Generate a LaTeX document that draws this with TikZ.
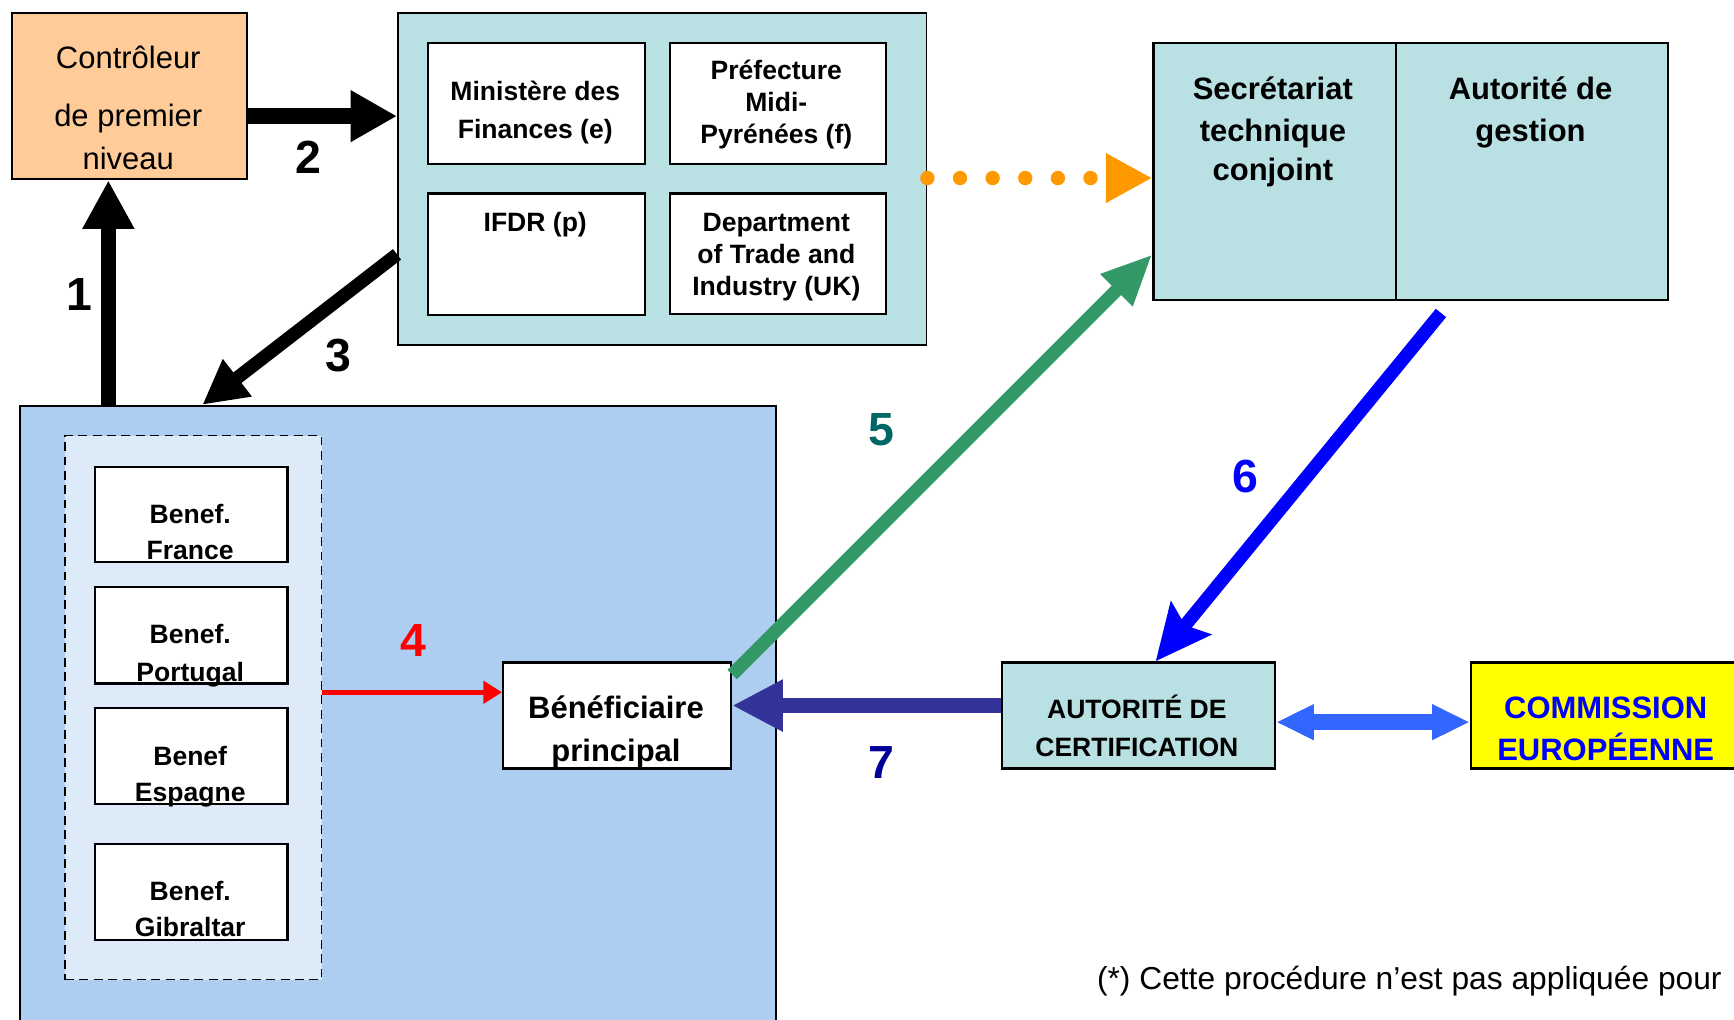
\documentclass[tikz,border=0pt]{standalone}
\usepackage{fontspec}
\setmainfont{Liberation Sans}
\usetikzlibrary{arrows.meta}
\definecolor{orbox}{HTML}{FFCC99}
\definecolor{tealbox}{HTML}{B9E0E3}
\definecolor{bluebox}{HTML}{ADCEF0}
\definecolor{dashbox}{HTML}{DDEAF8}
\definecolor{grn}{HTML}{339966}
\definecolor{dteal}{HTML}{006666}
\definecolor{navyarr}{HTML}{333399}
\definecolor{navylbl}{HTML}{000099}
\definecolor{dblarr}{HTML}{3366FF}
\definecolor{orng}{HTML}{FF9900}
\definecolor{yel}{HTML}{FFFF00}
\begin{document}
\begin{tikzpicture}[x=1pt,y=-1pt,
  bx/.style={draw=black, line width=2pt, rectangle, inner sep=0pt, anchor=north west},
  rtext/.style={font=\fontsize{28}{34}\selectfont, anchor=base, inner sep=0pt},
  btext/.style={font=\bfseries\fontsize{28}{34}\selectfont, anchor=base, inner sep=0pt},
  bsmall/.style={font=\bfseries\fontsize{24}{29}\selectfont, anchor=base, inner sep=0pt},
  numlbl/.style={font=\bfseries\fontsize{42}{48}\selectfont, anchor=base, inner sep=0pt},
]
\useasboundingbox (0,0) rectangle (1568,922);
\clip (0,0) rectangle (1568,922);
\fill[white] (0,0) rectangle (1568,922);

% helper coordinates
\coordinate (c98) at (98,0);
\coordinate (c105) at (0,105);
\coordinate (c230) at (0,230);
\coordinate (c183) at (183,0);
\coordinate (c161) at (0,161);
\coordinate (c1303) at (1303,283);
\coordinate (c1045) at (1045,0);
\coordinate (c638) at (0,638);
\coordinate (c653) at (0,653);
\coordinate (c626) at (0,626);

% boxes
\node[bx, fill=orbox, minimum width=212pt, minimum height=150pt] (ctrl) at (10,11) {};
\node[bx, fill=tealbox, line width=1.6pt, minimum width=478pt, minimum height=300pt] (teal) at (359,11) {};
\node[bx, fill=white, minimum width=196pt, minimum height=109pt] (mf) at (386,38) {};
\node[bx, fill=white, minimum width=195pt, minimum height=109pt] (pref) at (605,38) {};
\node[bx, fill=white, minimum width=196pt, minimum height=110pt] (ifdr) at (386,174) {};
\node[bx, fill=white, minimum width=195pt, minimum height=109pt] (dti) at (605,174) {};
\node[bx, fill=tealbox, minimum width=219pt, minimum height=232pt] (stc) at (1042,38) {};
\node[bx, fill=tealbox, minimum width=246pt, minimum height=232pt] (ag) at (1261,38) {};
\node[bx, fill=bluebox, line width=1.6pt, minimum width=684pt, minimum height=620pt] (blue) at (17,366) {};
\node[bx, fill=dashbox, line width=1.6pt, dash pattern=on 8pt off 5pt, minimum width=232pt, minimum height=492pt] (dash) at (58,393) {};
\node[bx, fill=white, minimum width=174pt, minimum height=86pt] (bf) at (85,421) {};
\node[bx, fill=white, minimum width=174pt, minimum height=87pt] (bp) at (85,530) {};
\node[bx, fill=white, minimum width=174pt, minimum height=87pt] (be) at (85,639) {};
\node[bx, fill=white, minimum width=174pt, minimum height=87pt] (bg) at (85,762) {};
\node[bx, fill=white, minimum width=206pt, minimum height=96pt] (benp) at (454,598) {};
\node[bx, fill=tealbox, minimum width=247pt, minimum height=96pt] (ac) at (905,598) {};
\node[bx, fill=yel, minimum width=260pt, minimum height=96pt] (ce) at (1329,598) {};

% connectors
\draw[line width=14pt, -{Triangle[length=44pt,width=44pt]}] (blue.north -| c98) -- (ctrl.south -| c98);
\draw[line width=14pt, -{Triangle[length=42pt,width=44pt]}] (ctrl.east |- c105) -- (teal.west |- c105);
\draw[line width=12pt, -{Triangle[length=40pt,width=40pt]}] (teal.west |- c230) -- (blue.north -| c183);
\draw[orng, line width=13pt, line cap=round, dash pattern=on 0pt off 29.5pt, -{Triangle[length=42pt,width=42pt]}] (teal.east |- c161) -- (stc.west |- c161);
\draw[red, line width=5pt, -{Triangle[length=17pt,width=20pt]}] (dash.east |- c626) -- (benp.west |- c626);
\draw[grn, line width=12pt, -{Triangle[length=46pt,width=38pt]}] ([yshift=-12pt]benp.north east) -- (stc.west |- c230);
\draw[blue, line width=12pt, -{Stealth[length=50pt,width=46pt,inset=8pt]}] (c1303) -- (ac.north -| c1045);
\draw[navyarr, line width=14pt, -{Triangle[length=46pt,width=44pt]}] (ac.west |- c638) -- (benp.east |- c638);
\draw[dblarr, line width=14pt, {Triangle[length=34pt,width=30pt]}-{Triangle[length=34pt,width=30pt]}] (ac.east |- c653) -- (ce.west |- c653);

% texts
\node[rtext] (t1a) at (116,62) {Contrôleur};
\node[rtext] (t1b) at (116,114) {de premier};
\node[rtext] (t1c) at (116,153) {niveau};

\node[bsmall] (t2a) at (484,91) {Ministère des};
\node[bsmall] (t2b) at (484,125) {Finances (e)};
\node[bsmall] (t3a) at (702,72) {Préfecture};
\node[bsmall] (t3b) at (702,101) {Midi-};
\node[bsmall] (t3c) at (702,130) {Pyrénées (f)};
\node[bsmall] (t4a) at (484,209) {IFDR (p)};
\node[bsmall] (t5a) at (702,209) {Department};
\node[bsmall] (t5b) at (702,238) {of Trade and};
\node[bsmall] (t5c) at (702,267) {Industry (UK)};

\node[btext] (t6a) at (1151,90) {Secrétariat};
\node[btext] (t6b) at (1151,128) {technique};
\node[btext] (t6c) at (1151,163) {conjoint};
\node[btext] (t7a) at (1384,90) {Autorité de};
\node[btext] (t7b) at (1384,128) {gestion};

\node[bsmall] (t8a) at (172,473) {Benef.};
\node[bsmall] (t8b) at (172,506) {France};
\node[bsmall] (t9a) at (172,582) {Benef.};
\node[bsmall] (t9b) at (172,616) {Portugal};
\node[bsmall] (t10a) at (172,692) {Benef};
\node[bsmall] (t10b) at (172,725) {Espagne};
\node[bsmall] (t11a) at (172,814) {Benef.};
\node[bsmall] (t11b) at (172,847) {Gibraltar};

\node[btext] (t12a) at (557,650) {Bénéficiaire};
\node[btext] (t12b) at (557,689) {principal};
\node[bsmall] (t13a) at (1028,650) {AUTORITÉ DE};
\node[bsmall] (t13b) at (1028,684) {CERTIFICATION};
\node[btext, text=blue] (t14a) at (1452,650) {COMMISSION};
\node[btext, text=blue] (t14b) at (1452,688) {EUROPÉENNE};

\node[rtext, font=\fontsize{28.7}{34}\selectfont, anchor=base east] (foot) at (1557,895) {(*) Cette procédure n\char"0027 est pas appliquée pour};

% step numbers
\node[numlbl] (n1) at (72,281) {1};
\node[numlbl] (n2) at (279,157) {2};
\node[numlbl] (n3) at (306,336) {3};
\node[numlbl, text=red] (n4) at (374,594) {4};
\node[numlbl, text=dteal] (n5) at (797,403) {5};
\node[numlbl, text=blue] (n6) at (1126,445) {6};
\node[numlbl, text=navylbl] (n7) at (797,704) {7};
\end{tikzpicture}
\end{document}
